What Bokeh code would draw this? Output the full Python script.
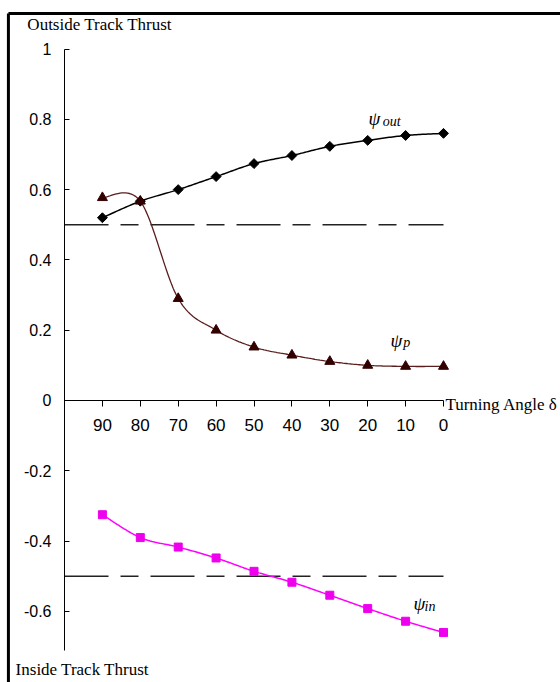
import numpy as np
from bokeh.plotting import figure
from bokeh.models import Range1d, LinearAxis, FixedTicker, Label
from bokeh.embed import file_html
from bokeh.resources import INLINE

# ---------------- data ----------------
angles = [90, 80, 70, 60, 50, 40, 30, 20, 10, 0]
psi_out = [0.520, 0.567, 0.600, 0.637, 0.674, 0.697, 0.723, 0.740, 0.754, 0.760]
psi_p = [0.577, 0.567, 0.290, 0.200, 0.152, 0.129, 0.111, 0.100, 0.097, 0.097]
psi_in = [-0.325, -0.390, -0.417, -0.448, -0.486, -0.517, -0.554, -0.592, -0.628, -0.660]
ref_levels = [0.5, -0.5]
x_ticks = [90, 80, 70, 60, 50, 40, 30, 20, 10, 0]
x_tick_labels = ["90", "80", "70", "60", "50", "40", "30", "20", "10", "0"]
y_ticks = [-0.6, -0.4, -0.2, 0, 0.2, 0.4, 0.6, 0.8, 1.0]
y_tick_labels = ["-0.6", "-0.4", "-0.2", "0", "0.2", "0.4", "0.6", "0.8", "1"]
x_axis_span = (0, 100)        # extent of the x axis line
y_axis_span = (-0.711, 1.0)   # extent of the y axis line

# page frame (decorative border at top and left, in data units of the canvas)
frame_left_x = 114.8
frame_top_y = 1.101
frame_right_x = -30.9
frame_bottom_y = -0.81


def smooth(xs, ys, n=24):
    """Excel-style smoothed (Bezier / Catmull-Rom) path through the points."""
    P = np.column_stack([xs, ys]).astype(float)
    m = len(P)
    out = []
    for i in range(m - 1):
        p0 = P[i - 1] if i > 0 else P[i]
        p1 = P[i]
        p2 = P[i + 1]
        p3 = P[i + 2] if i + 2 < m else P[i + 1]
        c1 = p1 + (p2 - p0) / 6.0
        c2 = p2 - (p3 - p1) / 6.0
        t = np.linspace(0, 1, n)[:, None]
        seg = ((1 - t) ** 3) * p1 + 3 * ((1 - t) ** 2) * t * c1 + 3 * (1 - t) * t ** 2 * c2 + t ** 3 * p2
        out.append(seg if i == 0 else seg[1:])
    S = np.vstack(out)
    return S[:, 0], S[:, 1]


p = figure(width=560, height=682,
           x_range=Range1d(116.89, -30.87), y_range=Range1d(-0.8023, 1.138),
           output_backend="svg", toolbar_location=None,
           x_axis_location=None, y_axis_location=None,
           min_border_left=0, min_border_right=0,
           min_border_top=0, min_border_bottom=0)
p.outline_line_color = None
p.grid.visible = False
p.background_fill_color = "white"
p.border_fill_color = "white"

# page border (top + left)
p.segment(x0=[frame_left_x, frame_left_x], x1=[frame_right_x, frame_left_x],
          y0=[frame_top_y, frame_top_y], y1=[frame_top_y, frame_bottom_y],
          line_color="black", line_width=3)

# y axis (at x = 100)
yaxis = LinearAxis(ticker=FixedTicker(ticks=y_ticks), fixed_location=x_axis_span[1],
                   bounds=y_axis_span)
yaxis.major_label_overrides = {v: s for v, s in zip(y_ticks, y_tick_labels)}
yaxis.major_tick_in = 5
yaxis.major_tick_out = 0
yaxis.minor_tick_in = 0
yaxis.minor_tick_out = 0
yaxis.major_label_standoff = 13
yaxis.major_label_text_font = "Liberation Sans"
yaxis.major_label_text_font_size = "16px"
yaxis.major_label_text_color = "black"
yaxis.axis_line_color = "black"
yaxis.major_tick_line_color = "black"
p.add_layout(yaxis, "left")

# x axis (at y = 0)
xaxis = LinearAxis(ticker=FixedTicker(ticks=x_ticks), fixed_location=0,
                   bounds=x_axis_span)
xaxis.major_label_overrides = {v: s for v, s in zip(x_ticks, x_tick_labels)}
xaxis.major_tick_in = 0
xaxis.major_tick_out = 6
xaxis.minor_tick_in = 0
xaxis.minor_tick_out = 0
xaxis.major_label_standoff = 13
xaxis.major_label_text_font = "Liberation Sans"
xaxis.major_label_text_font_size = "17px"
xaxis.major_label_text_color = "black"
xaxis.axis_line_color = "black"
xaxis.major_tick_line_color = "black"
p.add_layout(xaxis, "below")

# dashed reference lines across the axis extent
for lv in ref_levels:
    p.segment(x0=x_axis_span[1], x1=x_axis_span[0], y0=lv, y1=lv,
              line_color="#222222", line_width=1.5, line_dash="44 12 18 12")

# series
sx, sy = smooth(angles, psi_out)
p.line(sx, sy, line_color="black", line_width=1.5)
p.scatter(angles, psi_out, marker="square", angle=np.pi / 4, size=7,
          fill_color="black", line_color="black")

sx, sy = smooth(angles, psi_p)
p.line(sx, sy, line_color="#5a1e1e", line_width=1.3)
p.scatter(angles, psi_p, marker="triangle", size=10,
          fill_color="#330000", line_color="#330000")

sx, sy = smooth(angles, psi_in)
p.line(sx, sy, line_color="#FF00FF", line_width=1.5)
p.scatter(angles, psi_in, marker="square", size=8,
          fill_color="#EE00EE", line_color="#EE00EE")


# series labels
def psi_label(x, y, sx_, sy_, sub):
    p.add_layout(Label(x=x, y=y, text="ψ", text_font="Liberation Serif",
                       text_font_style="italic", text_font_size="19px",
                       text_color="black", text_baseline="alphabetic"))
    p.add_layout(Label(x=sx_, y=sy_, text=sub, text_font="Liberation Serif",
                       text_font_style="italic", text_font_size="14px",
                       text_color="black", text_baseline="alphabetic"))


psi_label(19.8, 0.802, 16.0, 0.794, "out")
psi_label(14.0, 0.170, 10.6, 0.165, "p")
psi_label(7.9, -0.578, 5.0, -0.586, "in")

# axis titles
p.add_layout(Label(x=109.8, y=1.070, text="Outside Track Thrust",
                   text_font="Liberation Serif", text_font_size="17px",
                   text_color="black", text_baseline="alphabetic"))
p.add_layout(Label(x=112.9, y=-0.766, text="Inside Track Thrust",
                   text_font="Liberation Serif", text_font_size="17px",
                   text_color="black", text_baseline="alphabetic"))
p.add_layout(Label(x=-0.50, y=-0.010, text="Turning Angle δ",
                   text_font="Liberation Serif", text_font_size="17px",
                   text_color="black", text_baseline="alphabetic"))

html = file_html(p, INLINE)
html = html.replace("</head>", "<style>html,body{margin:0;padding:0;overflow:hidden;}</style></head>", 1)
open("out.html", "w").write(html)
